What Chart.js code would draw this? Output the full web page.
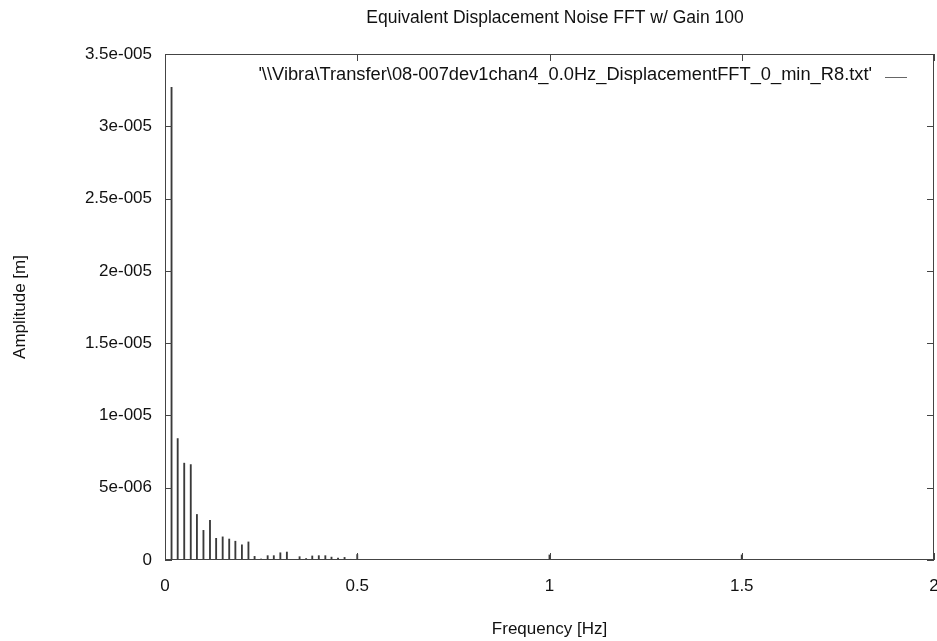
<!DOCTYPE html>
<html>
<head>
<meta charset="utf-8">
<title>Equivalent Displacement Noise FFT</title>
<script src="https://cdn.jsdelivr.net/npm/chart.js@4.4.1/dist/chart.umd.min.js"></script>
<style>
    html, body { margin: 0; padding: 0; background: #fff; }
    #wrap { width: 937px; height: 641px; }
</style>
</head>
<body>
<div id="wrap"><canvas id="fftChart" width="937" height="641"></canvas></div>
<script>
// FFT bins (Hz) and amplitudes (m)
const freqs = [0, 0.017, 0.033, 0.05, 0.067, 0.083, 0.1, 0.117, 0.133, 0.15,
    0.167, 0.183, 0.2, 0.217, 0.233, 0.25, 0.267, 0.283, 0.3, 0.317,
    0.333, 0.35, 0.367, 0.383, 0.4, 0.417, 0.433, 0.45, 0.467, 0.483,
    0.5, 1.0, 1.5];
const amps = [4.2e-6, 3.27e-5, 8.4e-6, 6.7e-6, 6.6e-6, 3.15e-6, 2.05e-6, 2.75e-6, 1.5e-6, 1.6e-6,
    1.45e-6, 1.3e-6, 1.05e-6, 1.25e-6, 2.5e-7, 7e-8, 3e-7, 3e-7, 5e-7, 5.5e-7,
    0, 2.3e-7, 1e-7, 2.8e-7, 3e-7, 3e-7, 2e-7, 1.4e-7, 1.8e-7, 5e-8,
    3.8e-7, 3.5e-7, 3.5e-7];

const xTicks = [0, 0.5, 1, 1.5, 2];
const xTickLabels = ['0', '0.5', '1', '1.5', '2'];
const yTickLabels = ['0', '5e-006', '1e-005', '1.5e-005', '2e-005', '2.5e-005', '3e-005', '3.5e-005'];

const chartTitle = 'Equivalent Displacement Noise FFT w/ Gain 100';
const seriesLabel = "'\\\\Vibra\\Transfer\\08-007dev1chan4_0.0Hz_DisplacementFFT_0_min_R8.txt'";

const FONT = '"Liberation Sans", Arial, Helvetica, sans-serif';
Chart.defaults.font.family = FONT;
Chart.defaults.font.size = 17;
Chart.defaults.color = '#111';

// gnuplot style frame, inward ticks, title and the key inside the plot
const framePlugin = {
    id: 'frame',
    afterDatasetsDraw(chart) {
        const { ctx, chartArea: a, scales } = chart;
        ctx.save();
        ctx.strokeStyle = '#444';
        ctx.lineWidth = 1;
        ctx.strokeRect(a.left + 0.5, a.top + 0.5, a.right - a.left - 1, a.bottom - a.top - 1);

        const len = 7;
        ctx.beginPath();
        scales.y.ticks.forEach(t => {
            const y = Math.round(scales.y.getPixelForValue(t.value)) + 0.5;
            ctx.moveTo(a.left, y); ctx.lineTo(a.left + len, y);
            ctx.moveTo(a.right, y); ctx.lineTo(a.right - len, y);
        });
        scales.x.ticks.forEach(t => {
            const x = Math.round(scales.x.getPixelForValue(t.value)) + 0.5;
            ctx.moveTo(x, a.bottom); ctx.lineTo(x, a.bottom - len);
            ctx.moveTo(x, a.top); ctx.lineTo(x, a.top + len);
        });
        ctx.stroke();

        ctx.fillStyle = '#111';
        ctx.textBaseline = 'middle';

        // title
        ctx.font = '17.5px ' + FONT;
        ctx.textAlign = 'center';
        ctx.fillText(chartTitle, 555, 18);

        // key
        ctx.font = '18.3px ' + FONT;
        ctx.textAlign = 'right';
        ctx.fillText(chart.data.datasets[0].label, 872, 75);
        ctx.strokeStyle = '#666';
        ctx.beginPath();
        ctx.moveTo(885, 77.5);
        ctx.lineTo(907, 77.5);
        ctx.stroke();
        ctx.restore();
    }
};

function noPad(scale) {
    scale.paddingLeft = 0;
    scale.paddingRight = 0;
    scale.paddingTop = 0;
    scale.paddingBottom = 0;
}

new Chart(document.getElementById('fftChart'), {
    type: 'bar',
    data: {
        datasets: [{
            label: seriesLabel,
            data: freqs.map((f, i) => ({ x: f, y: amps[i] })),
            backgroundColor: '#3a3a3a',
            borderWidth: 0,
            barThickness: 1.2
        }]
    },
    options: {
        responsive: false,
        animation: false,
        layout: { padding: { left: 0, right: 3, top: 54, bottom: 0 } },
        plugins: {
            legend: { display: false },
            tooltip: { enabled: false },
            title: { display: false }
        },
        scales: {
            x: {
                type: 'linear',
                min: 0,
                max: 2,
                offset: false,
                grid: { display: false, drawTicks: false },
                border: { display: false },
                afterBuildTicks(scale) {
                    scale.ticks = xTicks.map(v => ({ value: v }));
                },
                ticks: {
                    padding: 16,
                    maxRotation: 0,
                    callback: (v, i) => xTickLabels[i]
                },
                title: {
                    display: true,
                    text: 'Frequency [Hz]',
                    padding: { top: 0, bottom: 1 }
                },
                afterFit(scale) {
                    scale.height = 81;
                    noPad(scale);
                }
            },
            y: {
                min: 0,
                max: 3.5e-5,
                grid: { display: false, drawTicks: false },
                border: { display: false },
                afterBuildTicks(scale) {
                    scale.ticks = yTickLabels.map((s, i) => ({ value: i * 5e-6 }));
                },
                ticks: {
                    padding: 13,
                    callback: (v, i) => yTickLabels[i]
                },
                title: {
                    display: true,
                    text: 'Amplitude [m]',
                    padding: { top: 10, bottom: 0 }
                },
                afterFit(scale) {
                    scale.width = 165;
                    noPad(scale);
                }
            }
        }
    },
    plugins: [framePlugin]
});
</script>
</body>
</html>
